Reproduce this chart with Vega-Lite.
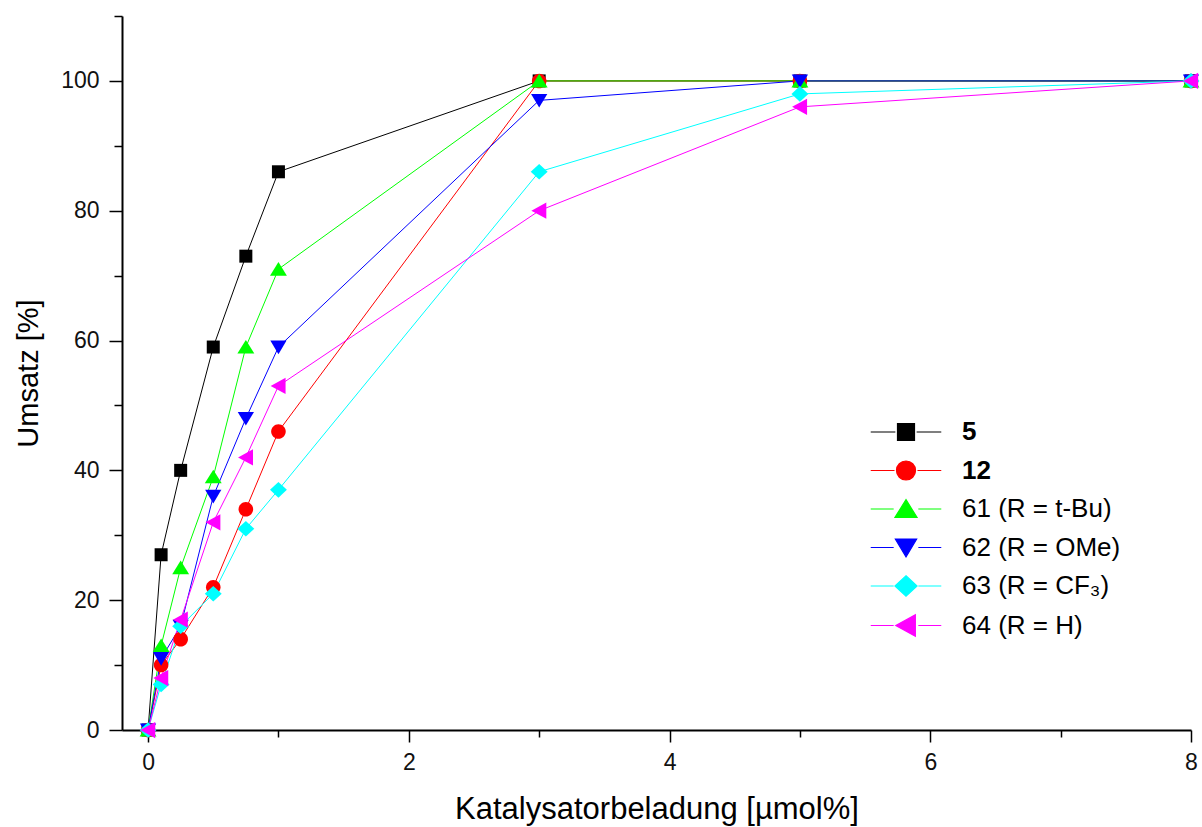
{
  "$schema": "https://vega.github.io/schema/vega-lite/v6.json",
  "width": 1069,
  "height": 714,
  "autosize": {"type": "none"},
  "padding": {"left": 122, "top": 16, "right": 11, "bottom": 97},
  "background": "white",
  "config": {
    "view": {"stroke": null},
    "font": "Liberation Sans",
    "axis": {
      "grid": false,
      "domainColor": "black",
      "domainWidth": 2,
      "tickColor": "black",
      "tickWidth": 1.5,
      "labelFont": "Liberation Sans",
      "labelFontSize": 23,
      "labelColor": "#111111",
      "titleFont": "Liberation Sans",
      "titleFontSize": 29,
      "titleFontWeight": "normal",
      "titleColor": "black"
    }
  },
  "data": {
    "values": [
      {"s": "5", "x": 0, "y": 0},
      {"s": "5", "x": 0.1, "y": 27},
      {"s": "5", "x": 0.25, "y": 40},
      {"s": "5", "x": 0.5, "y": 59},
      {"s": "5", "x": 0.75, "y": 73},
      {"s": "5", "x": 1, "y": 86},
      {"s": "5", "x": 3, "y": 100},
      {"s": "5", "x": 5, "y": 100},
      {"s": "5", "x": 8, "y": 100},
      {"s": "12", "x": 0, "y": 0},
      {"s": "12", "x": 0.1, "y": 10},
      {"s": "12", "x": 0.25, "y": 14},
      {"s": "12", "x": 0.5, "y": 22},
      {"s": "12", "x": 0.75, "y": 34},
      {"s": "12", "x": 1, "y": 46},
      {"s": "12", "x": 3, "y": 100},
      {"s": "12", "x": 5, "y": 100},
      {"s": "12", "x": 8, "y": 100},
      {"s": "61 (R = t-Bu)", "x": 0, "y": 0},
      {"s": "61 (R = t-Bu)", "x": 0.1, "y": 13},
      {"s": "61 (R = t-Bu)", "x": 0.25, "y": 25},
      {"s": "61 (R = t-Bu)", "x": 0.5, "y": 39},
      {"s": "61 (R = t-Bu)", "x": 0.75, "y": 59},
      {"s": "61 (R = t-Bu)", "x": 1, "y": 71},
      {"s": "61 (R = t-Bu)", "x": 3, "y": 100},
      {"s": "61 (R = t-Bu)", "x": 5, "y": 100},
      {"s": "61 (R = t-Bu)", "x": 8, "y": 100},
      {"s": "62 (R = OMe)", "x": 0, "y": 0},
      {"s": "62 (R = OMe)", "x": 0.1, "y": 11},
      {"s": "62 (R = OMe)", "x": 0.25, "y": 16},
      {"s": "62 (R = OMe)", "x": 0.5, "y": 36},
      {"s": "62 (R = OMe)", "x": 0.75, "y": 48},
      {"s": "62 (R = OMe)", "x": 1, "y": 59},
      {"s": "62 (R = OMe)", "x": 3, "y": 97},
      {"s": "62 (R = OMe)", "x": 5, "y": 100},
      {"s": "62 (R = OMe)", "x": 8, "y": 100},
      {"s": "63 (R = CF₃)", "x": 0, "y": 0},
      {"s": "63 (R = CF₃)", "x": 0.1, "y": 7},
      {"s": "63 (R = CF₃)", "x": 0.25, "y": 16},
      {"s": "63 (R = CF₃)", "x": 0.5, "y": 21},
      {"s": "63 (R = CF₃)", "x": 0.75, "y": 31},
      {"s": "63 (R = CF₃)", "x": 1, "y": 37},
      {"s": "63 (R = CF₃)", "x": 3, "y": 86},
      {"s": "63 (R = CF₃)", "x": 5, "y": 98},
      {"s": "63 (R = CF₃)", "x": 8, "y": 100},
      {"s": "64 (R = H)", "x": 0, "y": 0},
      {"s": "64 (R = H)", "x": 0.1, "y": 8},
      {"s": "64 (R = H)", "x": 0.25, "y": 17},
      {"s": "64 (R = H)", "x": 0.5, "y": 32},
      {"s": "64 (R = H)", "x": 0.75, "y": 42},
      {"s": "64 (R = H)", "x": 1, "y": 53},
      {"s": "64 (R = H)", "x": 3, "y": 80},
      {"s": "64 (R = H)", "x": 5, "y": 96},
      {"s": "64 (R = H)", "x": 8, "y": 100}
    ]
  },
  "encoding": {
    "x": {
      "field": "x",
      "type": "quantitative",
      "scale": {"domain": [-0.2, 8], "nice": false, "zero": false},
      "axis": {
        "title": "Katalysatorbeladung [µmol%]",
        "titleFontSize": 31,
        "values": [0, 1, 2, 3, 4, 5, 6, 7, 8],
        "labelExpr": "datum.value % 2 === 0 ? datum.label : ''",
        "tickSize": {"condition": {"test": "datum.value % 2 === 0", "value": 12}, "value": 7},
        "labelPadding": 9,
        "titlePadding": 20,
        "labelFlush": false,
        "labelOverlap": false
      }
    },
    "y": {
      "field": "y",
      "type": "quantitative",
      "scale": {"domain": [0, 110], "nice": false},
      "axis": {
        "title": "Umsatz [%]",
        "values": [0, 10, 20, 30, 40, 50, 60, 70, 80, 90, 100, 110],
        "labelExpr": "datum.value % 20 === 0 ? datum.label : ''",
        "tickSize": {"condition": {"test": "datum.value % 20 === 0", "value": 13}, "value": 8},
        "labelPadding": 10,
        "titlePadding": 17,
        "labelFlush": false,
        "labelOverlap": false
      }
    }
  },
  "layer": [
    {
      "mark": {"type": "line", "strokeWidth": 1},
      "encoding": {
        "color": {
          "field": "s",
          "type": "nominal",
          "scale": {
            "domain": ["5", "12", "61 (R = t-Bu)", "62 (R = OMe)", "63 (R = CF₃)", "64 (R = H)"],
            "range": ["#000000", "#ff0000", "#00ff00", "#0000ff", "#00ffff", "#ff00ff"]
          },
          "legend": null
        }
      }
    },
    {
      "mark": {"type": "point", "filled": true, "size": 169, "opacity": 1},
      "encoding": {
        "color": {
          "field": "s",
          "type": "nominal",
          "scale": {
            "domain": ["5", "12", "61 (R = t-Bu)", "62 (R = OMe)", "63 (R = CF₃)", "64 (R = H)"],
            "range": ["#000000", "#ff0000", "#00ff00", "#0000ff", "#00ffff", "#ff00ff"]
          },
          "legend": null
        },
        "shape": {
          "field": "s",
          "type": "nominal",
          "scale": {
            "domain": ["5", "12", "61 (R = t-Bu)", "62 (R = OMe)", "63 (R = CF₃)", "64 (R = H)"],
            "range": [
              "M-1,-1H1V1H-1Z",
              "M1.12,0A1.12,1.12,0,1,1,-1.12,0A1.12,1.12,0,1,1,1.12,0Z",
              "M0,-1.1L1.3,1L-1.3,1Z",
              "M0,1.1L1.25,-1L-1.25,-1Z",
              "M0,-1.2L1.3,0L0,1.2L-1.3,0Z",
              "M-1.2,0L1.1,-1.25L1.1,1.25Z"
            ]
          },
          "legend": null
        }
      }
    },
    {
      "mark": {"type": "point", "filled": true, "size": 289, "opacity": 0},
      "encoding": {
        "fill": {
          "field": "s",
          "type": "nominal",
          "scale": {
            "domain": ["5", "12", "61 (R = t-Bu)", "62 (R = OMe)", "63 (R = CF₃)", "64 (R = H)"],
            "range": ["#000000", "#ff0000", "#00ff00", "#0000ff", "#00ffff", "#ff00ff"]
          },
          "legend": {
            "title": null, "orient": "none", "legendX": 771, "legendY": 403,
            "symbolSize": 289, "symbolStrokeWidth": 1.2, "symbolOpacity": 1,
            "labelFont": "Liberation Sans", "labelFontSize": 26, "labelColor": "black",
            "labelOffset": 43, "rowPadding": 12.5, "labelLimit": 400, "padding": 0,
            "labelFontWeight": {"expr": "datum.label === '5' || datum.label === '12' ? 'bold' : 'normal'"}
          }
        },
        "stroke": {
          "field": "s",
          "type": "nominal",
          "scale": {
            "domain": ["5", "12", "61 (R = t-Bu)", "62 (R = OMe)", "63 (R = CF₃)", "64 (R = H)"],
            "range": ["#000000", "#ff0000", "#00ff00", "#0000ff", "#00ffff", "#ff00ff"]
          },
          "legend": {
            "title": null, "orient": "none", "legendX": 771, "legendY": 403,
            "symbolSize": 289, "symbolStrokeWidth": 1.2, "symbolOpacity": 1,
            "labelFont": "Liberation Sans", "labelFontSize": 26, "labelColor": "black",
            "labelOffset": 43, "rowPadding": 12.5, "labelLimit": 400, "padding": 0,
            "labelFontWeight": {"expr": "datum.label === '5' || datum.label === '12' ? 'bold' : 'normal'"}
          }
        },
        "shape": {
          "field": "s",
          "type": "nominal",
          "scale": {
            "domain": ["5", "12", "61 (R = t-Bu)", "62 (R = OMe)", "63 (R = CF₃)", "64 (R = H)"],
            "range": [
              "M-1,-1H1V1H-1Z M-4.15,0H-1.25M1.25,0H4.15",
              "M1.12,0A1.12,1.12,0,1,1,-1.12,0A1.12,1.12,0,1,1,1.12,0Z M-4.15,0H-1.35M1.35,0H4.15",
              "M0,-1.1L1.3,1L-1.3,1Z M-4.15,0H-1.45M1.45,0H4.15",
              "M0,1.1L1.25,-1L-1.25,-1Z M-4.15,0H-1.45M1.45,0H4.15",
              "M0,-1.2L1.3,0L0,1.2L-1.3,0Z M-4.15,0H-1.45M1.45,0H4.15",
              "M-1.2,0L1.1,-1.25L1.1,1.25Z M-4.15,0H-1.45M1.45,0H4.15"
            ]
          },
          "legend": {
            "title": null, "orient": "none", "legendX": 771, "legendY": 403,
            "symbolSize": 289, "symbolStrokeWidth": 1.2, "symbolOpacity": 1,
            "labelFont": "Liberation Sans", "labelFontSize": 26, "labelColor": "black",
            "labelOffset": 43, "rowPadding": 12.5, "labelLimit": 400, "padding": 0,
            "labelFontWeight": {"expr": "datum.label === '5' || datum.label === '12' ? 'bold' : 'normal'"}
          }
        }
      }
    }
  ],
  "resolve": {"scale": {"shape": "independent", "fill": "independent", "stroke": "independent"}}
}
